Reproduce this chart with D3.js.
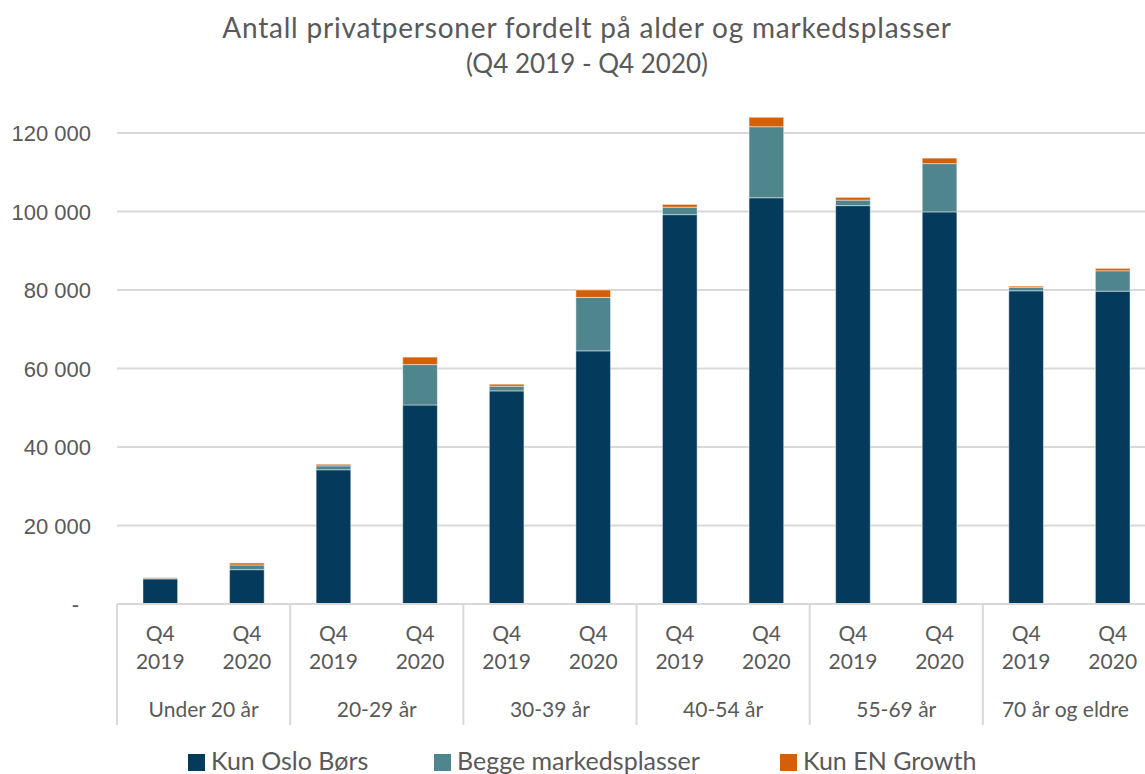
<!DOCTYPE html>
<html>
<head>
<meta charset="utf-8">
<script src="https://cdn.jsdelivr.net/npm/d3@7"></script>
<style>
  body { margin: 0; background: #fff; }
  svg { display: block; font-family: Lato, "Open Sans", sans-serif; }
</style>
</head>
<body>
<div class="chart"></div>
<script>
// Chart data
var groups = ["Under 20 år", "20-29 år", "30-39 år", "40-54 år", "55-69 år", "70 år og eldre"];
var periods = ["Q4 2019", "Q4 2020"];
var seriesNames = ["Kun Oslo Børs", "Begge markedsplasser", "Kun EN Growth"];

// values per bar, in order group x period
var kunOslo = [6400, 8750, 34200, 50700, 54300, 64500, 99200, 103500, 101500, 99900, 79800, 79700];
var begge   = [200, 1200, 1000, 10300, 1200, 13600, 1900, 18100, 1400, 12300, 900, 5200];
var kunEN   = [100, 500, 400, 1900, 500, 1900, 700, 2400, 700, 1400, 300, 600];

var yTicks = [0, 20000, 40000, 60000, 80000, 100000, 120000];
var colors = ["#043A5B", "#4F858C", "#D55F07"];

// SVG area
var svgWidth = 1145;
var svgHeight = 774;
var margin = { top: 133, right: 0, bottom: 170, left: 117 };
var width = 1039;   // plot runs past the right edge, as in the original
var height = svgHeight - margin.top - margin.bottom;

var svg = d3.select(".chart")
  .append("svg")
  .attr("width", svgWidth)
  .attr("height", svgHeight);

// Build rows for the stack
var rows = [];
groups.forEach(function(g, gi) {
  periods.forEach(function(p, pi) {
    var i = gi * 2 + pi;
    rows.push({ key: g + "|" + p, group: g, period: p, s0: kunOslo[i], s1: begge[i], s2: kunEN[i] });
  });
});

var stack = d3.stack().keys(["s0", "s1", "s2"]);
var stacked = stack(rows);

// Scales
var xScale = d3.scaleBand()
  .domain(rows.map(d => d.key))
  .range([0, width])
  .paddingInner(0.6)
  .paddingOuter(0.3);

var yScale = d3.scaleLinear()
  .domain([0, 120000])
  .range([height, 0]);

var chartGroup = svg.append("g")
  .attr("transform", `translate(${margin.left}, ${margin.top})`);

// Y axis labels
var leftAxis = d3.axisLeft(yScale)
  .tickValues(yTicks)
  .tickSize(0)
  .tickPadding(26)
  .tickFormat(d => d === 0 ? "-" : d3.format(",")(d).replace(/,/g, " "));

var yAxisG = chartGroup.append("g").call(leftAxis);
yAxisG.select(".domain").remove();
yAxisG.selectAll("text")
  .attr("fill", "#595959")
  .attr("font-size", "22px")
  .attr("dy", "0.35em");
yAxisG.selectAll(".tick")
  .filter(d => d === 0)
  .select("text")
  .attr("dx", "-12px");

// Gridlines
chartGroup.append("g")
  .selectAll("line")
  .data(yTicks.filter(d => d > 0))
  .enter()
  .append("line")
  .attr("x1", 0)
  .attr("x2", width)
  .attr("y1", d => yScale(d))
  .attr("y2", d => yScale(d))
  .attr("stroke", "#d9d9d9")
  .attr("stroke-width", 2);

// Bars
chartGroup.append("g")
  .selectAll("g")
  .data(stacked)
  .enter()
  .append("g")
  .attr("fill", (d, i) => colors[i])
  .selectAll("rect")
  .data(d => d)
  .enter()
  .append("rect")
  .attr("x", d => xScale(d.data.key))
  .attr("width", xScale.bandwidth())
  .attr("y", d => yScale(d[1]))
  .attr("height", d => yScale(d[0]) - yScale(d[1]))
  .attr("stroke", "#ffffff")
  .attr("stroke-opacity", 0.45)
  .attr("stroke-width", 1);

// Category axis
var groupWidth = width / groups.length;
var axisG = chartGroup.append("g")
  .attr("transform", `translate(0, ${height})`);

axisG.append("line")
  .attr("x1", 0)
  .attr("x2", width)
  .attr("stroke", "#d9d9d9")
  .attr("stroke-width", 2);

axisG.selectAll(".sep")
  .data(d3.range(groups.length + 1))
  .enter()
  .append("line")
  .attr("class", "sep")
  .attr("x1", i => i * groupWidth)
  .attr("x2", i => i * groupWidth)
  .attr("y1", 0)
  .attr("y2", 121)
  .attr("stroke", "#d9d9d9")
  .attr("stroke-width", 2);

var periodLabels = axisG.selectAll(".period")
  .data(rows)
  .enter()
  .append("text")
  .attr("class", "period")
  .attr("text-anchor", "middle")
  .attr("fill", "#595959")
  .attr("font-size", "21px")
  .attr("transform", d => `translate(${xScale(d.key) + xScale.bandwidth() / 2}, 0)`);

periodLabels.append("tspan")
  .attr("x", 0)
  .attr("y", 37)
  .text(d => d.period.split(" ")[0]);
periodLabels.append("tspan")
  .attr("x", 0)
  .attr("y", 65)
  .text(d => d.period.split(" ")[1]);

axisG.selectAll(".group")
  .data(groups)
  .enter()
  .append("text")
  .attr("class", "group")
  .attr("text-anchor", "middle")
  .attr("fill", "#595959")
  .attr("font-size", "21px")
  .attr("x", (d, i) => (i + 0.5) * groupWidth - (i === groups.length - 1 ? 4 : 0))
  .attr("y", 113)
  .text(d => d);

// Title
svg.append("text")
  .attr("x", 587)
  .attr("y", 38)
  .attr("text-anchor", "middle")
  .attr("fill", "#595959")
  .attr("font-size", "28px")
  .attr("letter-spacing", "0.8px")
  .text("Antall privatpersoner fordelt på alder og markedsplasser");

svg.append("text")
  .attr("x", 587)
  .attr("y", 73)
  .attr("text-anchor", "middle")
  .attr("fill", "#595959")
  .attr("font-size", "26px")
  .text("(Q4 2019 - Q4 2020)");

// Legend
var legendX = [188, 434, 780];
var legend = svg.append("g")
  .selectAll("g")
  .data(seriesNames)
  .enter()
  .append("g")
  .attr("transform", (d, i) => `translate(${legendX[i]}, 754)`);

legend.append("rect")
  .attr("width", 17)
  .attr("height", 17)
  .attr("fill", (d, i) => colors[i]);

legend.append("text")
  .attr("x", 23)
  .attr("y", 16)
  .attr("fill", "#595959")
  .attr("font-size", "25px")
  .text(d => d);
</script>
</body>
</html>
